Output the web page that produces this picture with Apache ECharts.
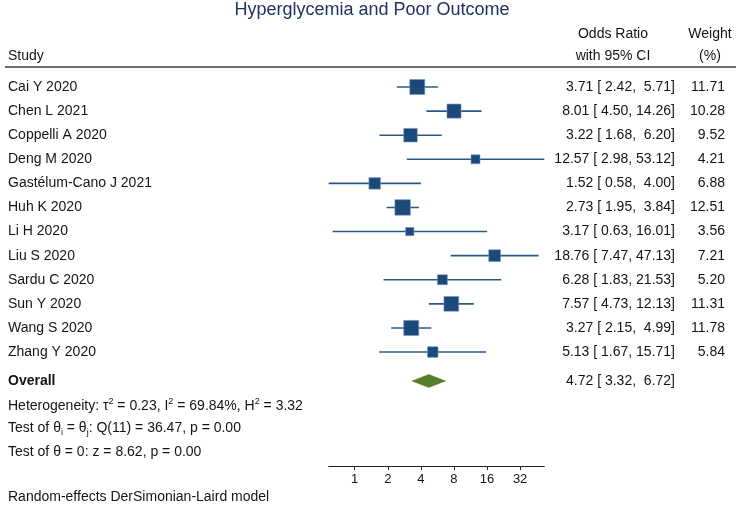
<!DOCTYPE html>
<html>
<head>
<meta charset="utf-8">
<script src="https://cdn.jsdelivr.net/npm/echarts@6/dist/echarts.min.js"></script>
<style>html,body{margin:0;padding:0;background:#fff}#c{width:740px;height:511px}</style>
</head>
<body>
<div id="c"></div>
<script>
const titleText = 'Hyperglycemia and Poor Outcome';
const studies = ['Cai Y 2020','Chen L 2021','Coppelli A 2020','Deng M 2020','Gastélum-Cano J 2021','Huh K 2020','Li H 2020','Liu S 2020','Sardu C 2020','Sun Y 2020','Wang S 2020','Zhang Y 2020'];
const oddsRatio = [3.71, 8.01, 3.22, 12.57, 1.52, 2.73, 3.17, 18.76, 6.28, 7.57, 3.27, 5.13];
const lowerCI   = [2.42, 4.50, 1.68, 2.98, 0.58, 1.95, 0.63, 7.47, 1.83, 4.73, 2.15, 1.67];
const upperCI   = [5.71, 14.26, 6.20, 53.12, 4.00, 3.84, 16.01, 47.13, 21.53, 12.13, 4.99, 15.71];
const weights   = [11.71, 10.28, 9.52, 4.21, 6.88, 12.51, 3.56, 7.21, 5.20, 11.31, 11.78, 5.84];
const overallEstimate = [4.72, 3.32, 6.72]; // OR, lower, upper
const xTickValues = [1, 2, 4, 8, 16, 32];
const axisRange = [0.58, 53.12];

const FONT = 'Liberation Sans, Arial, Helvetica, sans-serif';
const TXT = '#141414';
const FS = 14;
const log2 = Math.log2;

const COL_CI = 675, COL_W = 725;

function fmt(v) { return v.toFixed(2).padStart(5, ' '); }
function ciString(or, lo, hi) { return fmt(or) + ' [' + fmt(lo) + ', ' + fmt(hi) + ']'; }

function txt(text, x, y, align, extra) {
  return {type: 'text', style: Object.assign({text: text, x: x, y: y, align: align, verticalAlign: 'middle',
    fill: TXT, fontSize: FS, fontFamily: FONT}, extra || {})};
}

const studyData = studies.map((s, i) => [i, log2(oddsRatio[i]), log2(lowerCI[i]), log2(upperCI[i]), weights[i]]);

function renderStudy(params, api) {
  const i = params.dataIndex;
  const row = api.value(0);
  const pE = api.coord([api.value(1), row]);
  const pL = api.coord([api.value(2), row]);
  const pH = api.coord([api.value(3), row]);
  const y = pE[1];
  const side = 4.4 * Math.sqrt(api.value(4));
  return {type: 'group', children: [
    {type: 'line', shape: {x1: pL[0], y1: y, x2: pH[0], y2: y}, style: {stroke: '#2a5785', lineWidth: 1.6}},
    {type: 'rect', shape: {x: pE[0] - side / 2, y: y - side / 2, width: side, height: side},
      style: {fill: '#1b4a7a', stroke: '#7c9cc0', lineWidth: 0.6}},
    txt(studies[i], 8, y, 'left'),
    txt(ciString(oddsRatio[i], lowerCI[i], upperCI[i]), COL_CI, y, 'right'),
    txt(weights[i].toFixed(2), COL_W, y, 'right')
  ]};
}

const overallRow = 12.2;
function renderOverall(params, api) {
  const row = api.value(0);
  const pE = api.coord([api.value(1), row]);
  const pL = api.coord([api.value(2), row]);
  const pH = api.coord([api.value(3), row]);
  const y = pE[1];
  const h = 6.5;
  return {type: 'group', children: [
    {type: 'polygon', shape: {points: [[pL[0], y], [pE[0], y - h], [pH[0], y], [pE[0], y + h]]},
      style: {fill: '#587d2c', stroke: '#587d2c', lineWidth: 0.5}},
    txt('Overall', 8, y, 'left', {fontWeight: 'bold'}),
    txt(ciString(overallEstimate[0], overallEstimate[1], overallEstimate[2]), COL_CI, y, 'right')
  ]};
}

const rich = {
  sup: {fontSize: 9, verticalAlign: 'top', lineHeight: 18, fontFamily: FONT, fill: TXT},
  sub: {fontSize: 9, verticalAlign: 'bottom', lineHeight: 18, fontFamily: FONT, fill: TXT},
  n: {fontSize: FS, lineHeight: 18, fontFamily: FONT, fill: TXT}
};
function richText(text, y) {
  return {type: 'text', left: 8, top: y - 9, style: {text: text, rich: rich, fill: TXT, fontSize: FS, fontFamily: FONT}};
}

const chart = echarts.init(document.getElementById('c'), null, {renderer: 'canvas'});
chart.setOption({
  animation: false,
  backgroundColor: '#ffffff',
  grid: {left: 328.7, right: 740 - 544.3, top: 67, bottom: 511 - 466},
  xAxis: {
    type: 'value', position: 'bottom', min: log2(axisRange[0]), max: log2(axisRange[1]),
    splitLine: {show: false},
    axisLine: {show: true, onZero: false, lineStyle: {color: '#222', width: 1}},
    axisTick: {show: true, length: 4, customValues: xTickValues.map(log2), lineStyle: {color: '#222'}},
    axisLabel: {customValues: xTickValues.map(log2), formatter: v => String(Math.round(Math.pow(2, v))),
      color: TXT, fontSize: 13, fontFamily: FONT, margin: 7}
  },
  yAxis: {type: 'value', inverse: true, min: -0.83, max: 15.73, show: false},
  series: [
    {type: 'custom', clip: false, data: studyData, encode: {x: [1, 2, 3], y: 0}, renderItem: renderStudy, silent: true},
    {type: 'custom', clip: false, data: [[overallRow, log2(overallEstimate[0]), log2(overallEstimate[1]), log2(overallEstimate[2])]],
      encode: {x: [1, 2, 3], y: 0}, renderItem: renderOverall, silent: true}
  ],
  graphic: [
    {type: 'text', x: 372, y: 10, style: {text: titleText, align: 'center', verticalAlign: 'middle', fill: '#1f3260', fontSize: 18, fontFamily: FONT}},
    {type: 'text', x: 8, y: 56, style: {text: 'Study', verticalAlign: 'middle', fill: TXT, fontSize: FS, fontFamily: FONT}},
    {type: 'text', x: 613, y: 34, style: {text: 'Odds Ratio', align: 'center', verticalAlign: 'middle', fill: TXT, fontSize: FS, fontFamily: FONT}},
    {type: 'text', x: 613, y: 56, style: {text: 'with 95% CI', align: 'center', verticalAlign: 'middle', fill: TXT, fontSize: FS, fontFamily: FONT}},
    {type: 'text', x: 710, y: 34, style: {text: 'Weight', align: 'center', verticalAlign: 'middle', fill: TXT, fontSize: FS, fontFamily: FONT}},
    {type: 'text', x: 710, y: 56, style: {text: '(%)', align: 'center', verticalAlign: 'middle', fill: TXT, fontSize: FS, fontFamily: FONT}},
    {type: 'line', shape: {x1: 5, y1: 67, x2: 736, y2: 67}, style: {stroke: '#6e6e6e', lineWidth: 2}},
    richText('{n|Heterogeneity: τ}{sup|2}{n| = 0.23, I}{sup|2}{n| = 69.84%, H}{sup|2}{n| = 3.32}', 406),
    richText('{n|Test of θ}{sub|i}{n| = θ}{sub|j}{n|: Q(11) = 36.47, p = 0.00}', 430),
    richText('{n|Test of θ = 0: z = 8.62, p = 0.00}', 454),
    {type: 'text', x: 8, y: 497, style: {text: 'Random-effects DerSimonian-Laird model', verticalAlign: 'middle', fill: TXT, fontSize: FS, fontFamily: FONT}}
  ]
});
</script>
</body>
</html>
